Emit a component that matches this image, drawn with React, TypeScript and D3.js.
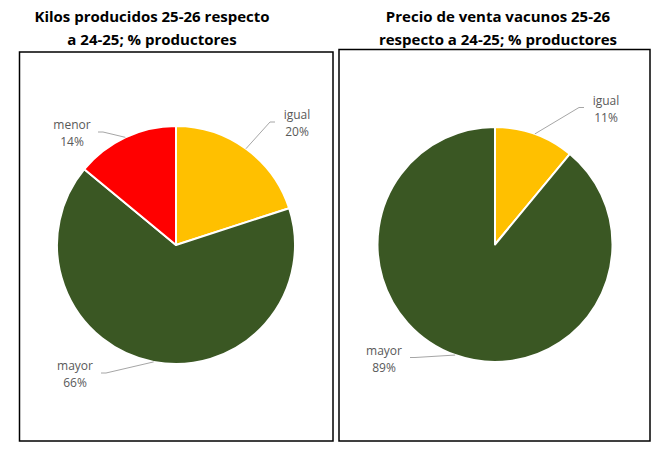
import React, { useRef, useEffect } from 'react';
import * as d3 from 'd3';

// Chart 1: kilos producidos
const kilosCategories = ['igual', 'mayor', 'menor'];
const kilosValues = [20, 66, 14];
const kilosTitle = ['Kilos producidos 25-26 respecto', 'a 24-25; % productores'];

// Chart 2: precio de venta
const precioCategories = ['igual', 'mayor'];
const precioValues = [11, 89];
const precioTitle = ['Precio de venta vacunos 25-26', 'respecto a 24-25; % productores'];

const colorMap: Record<string, string> = {
  igual: '#FFC000',
  mayor: '#3A5723',
  menor: '#FF0000',
};

type Slice = { cat: string; value: number };

type PanelCfg = {
  cats: string[];
  values: number[];
  title: string[];
  box: [number, number, number, number]; // x0, y0, x1, y1
  titleX: number;
  center: [number, number];
  radius: number;
  // label block centre, relative to pie centre
  labelPos: Record<string, [number, number]>;
};

const panels: PanelCfg[] = [
  {
    cats: kilosCategories,
    values: kilosValues,
    title: kilosTitle,
    box: [19.5, 52, 333, 441],
    titleX: 152,
    center: [176, 245],
    radius: 119,
    labelPos: { igual: [121, -122], menor: [-104, -112], mayor: [-101, 129] },
  },
  {
    cats: precioCategories,
    values: precioValues,
    title: precioTitle,
    box: [339, 49.5, 650, 441],
    titleX: 498,
    center: [495, 244.5],
    radius: 117.5,
    labelPos: { igual: [111, -136], mayor: [-111, 114] },
  },
];

const App: React.FC = () => {
  const svgRef = useRef<SVGSVGElement | null>(null);

  useEffect(() => {
    if (!svgRef.current) return;
    const svg = d3.select(svgRef.current);
    svg.selectAll('*').remove();

    panels.forEach((p) => {
      const g = svg.append('g');
      const [x0, y0, x1, y1] = p.box;

      // frame
      g.append('rect')
        .attr('x', x0)
        .attr('y', y0)
        .attr('width', x1 - x0)
        .attr('height', y1 - y0)
        .attr('fill', '#fff')
        .attr('stroke', '#000')
        .attr('stroke-width', 1.5);

      // title
      g.append('text')
        .attr('text-anchor', 'middle')
        .attr('font-family', 'Open Sans, sans-serif')
        .attr('font-weight', 700)
        .attr('font-size', 15)
        .attr('fill', '#000')
        .selectAll('tspan')
        .data(p.title)
        .join('tspan')
        .attr('x', p.titleX)
        .attr('y', (d, i) => 22 + i * 23)
        .text(d => d);

      const data: Slice[] = p.cats.map((c, i) => ({ cat: c, value: p.values[i] }));
      const pie = d3.pie<Slice>().value(d => d.value).sort(null);
      const arcs = pie(data);
      const arc = d3.arc<d3.PieArcDatum<Slice>>().innerRadius(0).outerRadius(p.radius);

      const pg = g.append('g').attr('transform', `translate(${p.center[0]},${p.center[1]})`);

      pg.selectAll('path.slice')
        .data(arcs)
        .join('path')
        .attr('class', 'slice')
        .attr('d', arc)
        .attr('fill', d => colorMap[d.data.cat])
        .attr('stroke', '#fff')
        .attr('stroke-width', 2)
        .attr('stroke-linejoin', 'round');

      // labels + leader lines
      arcs.forEach((a) => {
        const mid = (a.startAngle + a.endAngle) / 2;
        const ax = Math.sin(mid) * p.radius;
        const ay = -Math.cos(mid) * p.radius;
        const [lx, ly] = p.labelPos[a.data.cat];
        const right = lx > 0;
        const halfW = a.data.cat === 'igual' ? 13 : 18;
        const sx = right ? lx - halfW - 9 : lx + halfW + 8;
        const sy = ly - 1;
        const kx = right ? sx - 5 : sx + 5;

        pg.append('path')
          .attr('d', `M${sx},${sy}L${kx},${sy}L${ax},${ay}`)
          .attr('fill', 'none')
          .attr('stroke', '#A6A6A6')
          .attr('stroke-width', 1);

        const t = pg.append('text')
          .attr('text-anchor', 'middle')
          .attr('font-family', 'Open Sans, sans-serif')
          .attr('font-size', 12)
          .attr('fill', '#595959');
        t.append('tspan').attr('x', lx).attr('y', ly - 4).text(a.data.cat);
        t.append('tspan').attr('x', lx).attr('y', ly + 13).text(`${a.data.value}%`);
      });
    });
  }, []);

  return (
    <svg
      ref={svgRef}
      width={664}
      height={460}
      style={{ position: 'absolute', left: 0, top: 0, background: '#fff' }}
    />
  );
};

export default App;
